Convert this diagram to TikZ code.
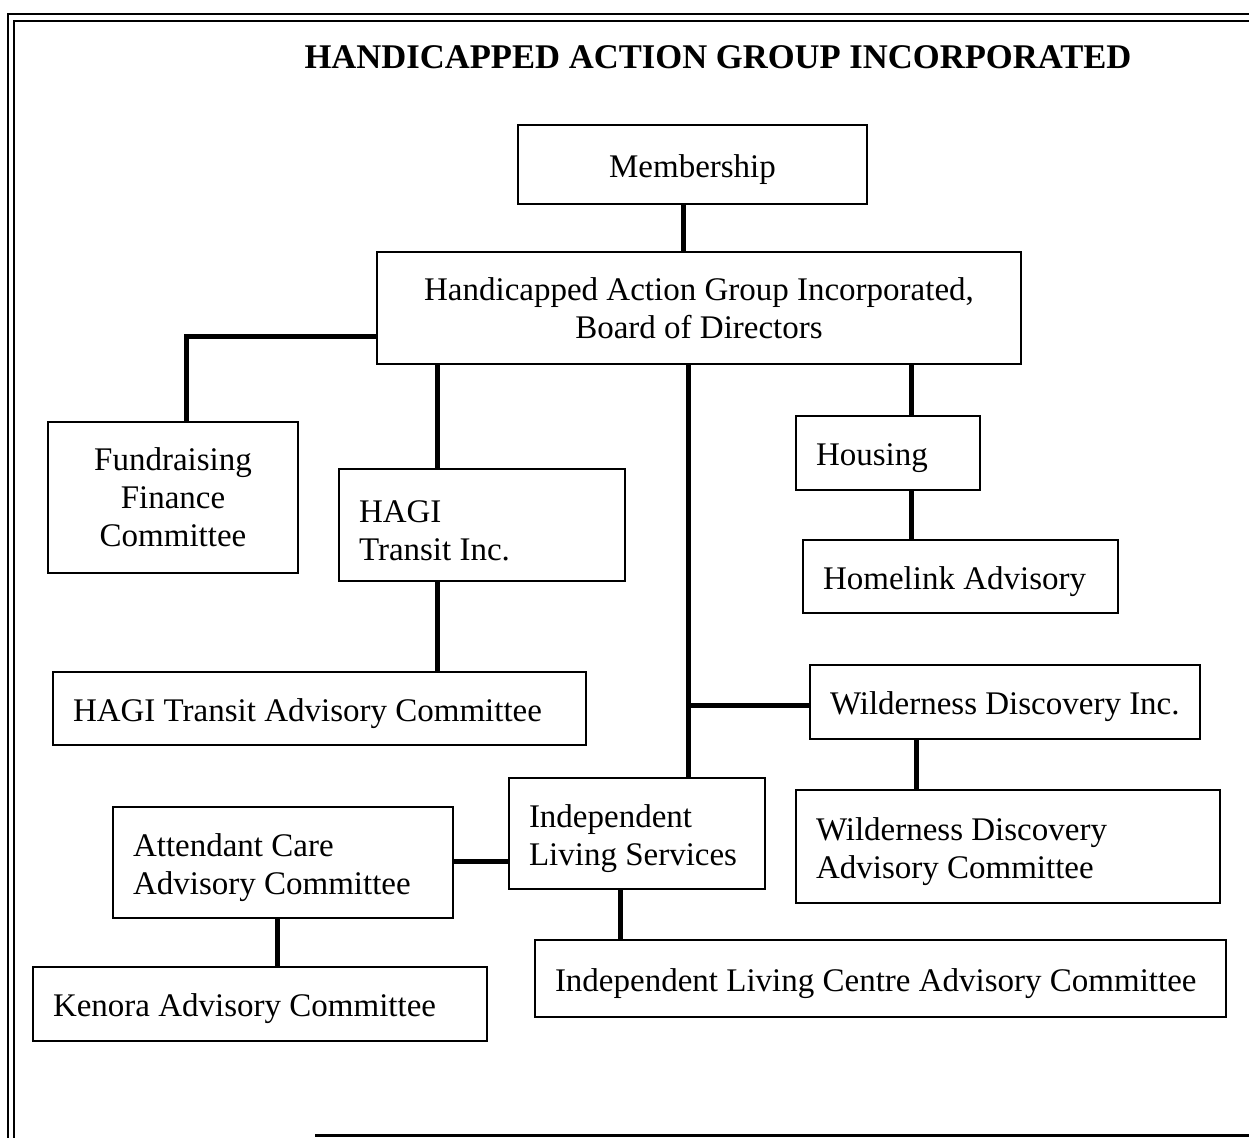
\documentclass[tikz,border=0pt]{standalone}
\usepackage{fontspec}
\setmainfont{Liberation Serif}
\begin{document}
\begin{tikzpicture}[x=1pt,y=-1pt,
  box/.style={draw, line width=2.4pt, inner xsep=20pt, inner ysep=0pt,
    font=\fontsize{33}{38}\selectfont},
  strut/.style={execute at begin node={\spaceskip=0pt\xspaceskip=0pt\rule{0pt}{33pt}}},
  cbox/.style={box, align=center},
  lbox/.style={box, strut, align=left},
  conn/.style={line width=5pt},
  frame/.style={line width=2.2pt}]
\useasboundingbox (0,0) rectangle (1249,1138);
% frame
\draw[frame] (1249,14) -- (8,14) -- (8,1138);
\draw[frame] (1249,21) -- (14,21) -- (14,1138);
\draw[line width=3pt] (315,1135) -- (1249,1135);
% title
\node[font=\fontsize{34.6}{40}\selectfont\bfseries] (title) at (718,57) {HANDICAPPED ACTION GROUP INCORPORATED};
% boxes
\node[cbox, strut, minimum width=349pt, minimum height=79pt] (mem) at (692.5,164.5) {Membership};
\node[cbox, strut, minimum width=644pt, minimum height=112pt] (board) at (699,308) {Handicapped Action Group Incorporated,\\Board of Directors};
\node[cbox, minimum width=250pt, minimum height=151pt] (fund) at (173,497.5) {Fundraising\\Finance\\Committee};
\node[lbox, text width=246pt, minimum height=112pt] (hagi) at (482,525) {HAGI\\Transit Inc.};
\node[lbox, text width=144pt, minimum height=74pt] (housing) at (888,453) {Housing};
\node[lbox, text width=275pt, minimum height=73pt] (homelink) at (960.5,576.5) {Homelink Advisory};
\node[lbox, text width=493pt, minimum height=73pt] (hagiac) at (319.5,708.5) {\mbox{HAGI Transit Advisory Committee}};
\node[lbox, text width=350pt, minimum height=74pt] (wdi) at (1005,702) {\mbox{Wilderness Discovery Inc.}};
\node[lbox, text width=216pt, minimum height=111pt] (ils) at (637,833.5) {Independent\\Living Services};
\node[lbox, text width=300pt, minimum height=111pt] (acac) at (283,862.5) {Attendant Care\\Advisory Committee};
\node[lbox, text width=384pt, minimum height=113pt] (wdac) at (1008,846.5) {Wilderness Discovery\\Advisory Committee};
\node[lbox, text width=414pt, minimum height=74pt] (kenora) at (260,1004) {Kenora Advisory Committee};
\node[lbox, text width=651pt, minimum height=77pt] (ilcac) at (880.5,978.5) {\mbox{Independent Living Centre Advisory Committee}};
% connectors
\draw[conn] ([xshift=-9.5pt]mem.south) -- ([xshift=-9.5pt]mem.south |- board.north);
\draw[conn] ([yshift=-28pt]board.west) -| ([xshift=13pt]fund.north);
\draw[conn] ([xshift=-45pt]hagi.north) -- ([xshift=-45pt]hagi.north |- board.south);
\draw[conn] ([xshift=-45pt]hagi.south) -- ([xshift=-45pt]hagi.south |- hagiac.north);
\coordinate (trunk) at ([xshift=51pt]ils.north);
\draw[conn] (trunk) -- (trunk |- board.south);
\draw[conn] ([yshift=-3pt]wdi.west) -- ([yshift=-3pt]wdi.west -| trunk);
\draw[conn] ([xshift=23pt]housing.north) -- ([xshift=23pt]housing.north |- board.south);
\draw[conn] ([xshift=23pt]housing.south) -- ([xshift=23pt]housing.south |- homelink.north);
\draw[conn] ([xshift=-89pt]wdi.south) -- ([xshift=-89pt]wdi.south |- wdac.north);
\draw[conn] ([yshift=-27.5pt]ils.west) -- ([yshift=-27.5pt]ils.west -| acac.east);
\draw[conn] ([xshift=-17pt]ils.south) -- ([xshift=-17pt]ils.south |- ilcac.north);
\draw[conn] ([xshift=-6pt]acac.south) -- ([xshift=-6pt]acac.south |- kenora.north);
\end{tikzpicture}
\end{document}
